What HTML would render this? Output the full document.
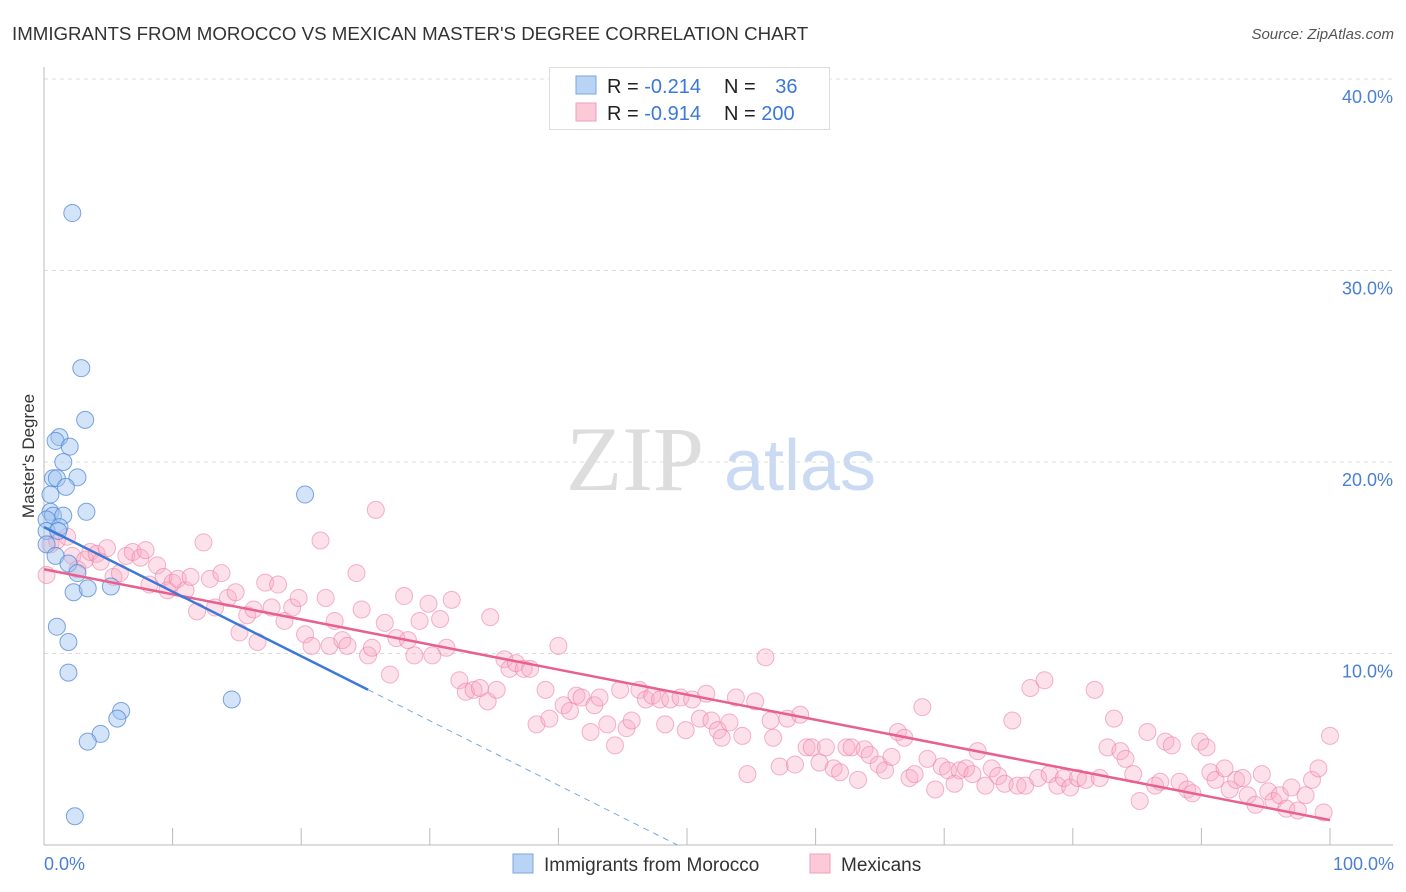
<!DOCTYPE html>
<html><head><meta charset="utf-8"><style>
body{margin:0;background:#fff;font-family:"Liberation Sans",sans-serif}
svg{display:block}
</style></head><body>
<svg id="chart" width="1406" height="892">
<text x="12" y="40" font-size="18.7" fill="#333">IMMIGRANTS FROM MOROCCO VS MEXICAN MASTER'S DEGREE CORRELATION CHART</text>
<text x="1394" y="39" font-size="15" fill="#555" font-style="italic" text-anchor="end">Source: ZipAtlas.com</text>
<g>
<text x="635" y="490" font-size="92" fill="#ddd" font-family="Liberation Serif,serif" text-anchor="middle">ZIP</text>
<text x="800" y="490" font-size="72" fill="#c9daf2" text-anchor="middle">atlas</text>
</g>
<g id="grid"></g>
<g id="axes"></g>
<g id="pink"></g>
<g id="blue"></g>
<g id="lines"></g>
<text transform="translate(34,456) rotate(-90)" font-size="17" fill="#333" text-anchor="middle">Master's Degree</text>
<text x="44" y="870" font-size="18" fill="#4a7fd4">0.0%</text>
<text x="1394" y="870" font-size="18" fill="#4a7fd4" text-anchor="end">100.0%</text>
<g>
<rect x="549.5" y="67.5" width="280" height="62" fill="#fff" stroke="#ddd"/>
<rect x="576" y="76" width="20" height="18" fill="#b9d3f5" stroke="#7aa7e2"/>
<rect x="576" y="103" width="20" height="18" fill="#fbc9d8" stroke="#f0a0ba"/>
<text x="607" y="93" font-size="20" fill="#222">R = <tspan fill="#3b78d8">-0.214</tspan></text>
<text x="724" y="93" font-size="20" fill="#222">N = <tspan fill="#3b78d8" dx="14">36</tspan></text>
<text x="607" y="120" font-size="20" fill="#222">R = <tspan fill="#3b78d8">-0.914</tspan></text>
<text x="724" y="120" font-size="20" fill="#222">N = <tspan fill="#3b78d8">200</tspan></text>
</g>
<g>
<rect x="513" y="854" width="20" height="19" fill="#b9d3f5" stroke="#7aa7e2"/>
<text x="544" y="871" font-size="19" fill="#333">Immigrants from Morocco</text>
<rect x="810" y="854" width="20" height="19" fill="#fbc9d8" stroke="#f0a0ba"/>
<text x="841" y="871" font-size="19" fill="#333">Mexicans</text>
</g>
</svg>
<script>
const blueX=[2.2,2.9,3.2,1.2,0.9,2.0,1.5,0.7,1.0,2.6,1.7,0.5,3.3,0.5,0.7,1.5,0.2,1.2,0.2,1.1,0.2,0.9,1.9,2.6,2.3,3.4,5.2,1.0,1.9,1.9,6.0,5.7,4.4,3.4,2.4,14.6,20.3];
const blueY=[33.0,24.9,22.2,21.3,21.1,20.8,20.0,19.15,19.15,19.2,18.7,18.3,17.4,17.4,17.2,17.2,17.0,16.6,16.4,16.4,15.7,15.1,14.7,14.2,13.2,13.4,13.5,11.4,10.6,9.0,7.0,6.6,5.8,5.4,1.5,7.6,18.3];
const pinkX=[0.2,0.5,1.0,1.8,2.2,2.6,3.2,3.6,4.1,4.4,4.9,5.4,5.9,6.4,6.9,7.5,7.9,8.2,8.8,9.3,9.6,10.0,10.4,11.0,11.4,11.9,12.4,12.9,13.3,13.8,14.3,14.9,15.2,15.8,16.3,16.6,17.2,17.7,18.2,18.7,19.3,19.8,20.3,20.8,21.5,21.9,22.2,22.6,23.2,23.6,24.3,24.7,25.2,25.5,25.8,26.5,26.9,27.4,28.0,28.3,28.8,29.2,29.9,30.2,30.8,31.3,31.7,32.3,32.8,33.4,33.9,34.5,34.7,35.2,35.8,36.2,36.7,37.3,37.8,38.3,39.0,39.3,40.0,40.4,40.9,41.4,41.8,42.5,42.8,43.2,43.8,44.4,44.8,45.3,45.7,46.3,46.8,47.3,47.9,48.3,48.7,49.5,49.9,50.4,51.0,51.5,51.9,52.4,52.7,53.3,53.8,54.3,54.7,55.3,56.1,56.5,56.7,57.2,57.8,58.4,58.8,59.3,59.7,60.3,60.8,61.4,61.9,62.4,62.8,63.3,63.8,64.2,64.9,65.4,65.9,66.4,66.9,67.3,67.7,68.3,68.7,69.3,69.8,70.3,70.8,71.2,71.7,72.2,72.6,73.2,73.7,74.2,74.7,75.3,75.7,76.3,76.7,77.3,77.8,78.2,78.8,79.3,79.8,80.4,81.0,81.7,82.1,82.7,83.2,83.7,84.1,84.7,85.2,85.8,86.4,86.8,87.2,87.7,88.3,88.9,89.3,89.9,90.4,90.7,91.1,91.8,92.2,92.7,93.2,93.6,94.2,94.7,95.2,95.6,96.1,96.6,97.0,97.5,98.1,98.6,99.1,99.5,100];
const pinkY=[14.1,15.7,15.9,16.1,15.1,14.4,14.9,15.3,15.2,14.8,15.5,14.0,14.2,15.1,15.3,15.0,15.4,13.6,14.6,14.0,13.3,13.7,13.9,13.3,14.0,12.2,15.8,13.9,12.4,14.2,12.9,13.2,11.1,12.0,12.3,10.6,13.7,12.4,13.6,11.7,12.4,12.9,11.0,10.4,15.9,12.9,10.4,11.7,10.7,10.4,14.2,12.3,9.9,10.3,17.5,11.6,8.9,10.8,13.0,10.7,9.9,11.7,12.6,9.9,11.8,10.3,12.8,8.6,8.0,8.1,8.2,7.5,11.9,8.1,9.7,9.2,9.5,9.2,9.2,6.3,8.1,6.6,10.4,7.3,7.0,7.8,7.7,5.9,7.3,7.7,6.3,5.2,8.1,6.1,6.5,8.1,7.6,7.8,7.6,6.3,7.6,7.7,6.0,7.6,6.6,7.9,6.5,6.0,5.6,6.4,7.7,5.7,3.7,7.5,9.8,6.5,5.6,4.1,6.6,4.2,6.8,5.1,5.1,4.3,5.1,4.0,3.8,5.1,5.1,3.4,5.0,4.7,4.2,3.9,4.6,5.9,5.6,3.5,3.7,7.2,4.5,2.9,4.1,3.9,3.2,3.9,4.0,3.7,4.9,3.1,4.0,3.6,3.2,6.5,3.1,3.1,8.2,3.5,8.6,3.7,3.1,3.5,3.0,3.5,3.4,8.1,3.5,5.1,6.6,4.9,4.5,3.7,2.3,5.9,3.1,3.3,5.4,5.2,3.3,2.9,2.7,5.4,5.1,3.8,3.4,4.0,2.9,3.4,3.5,2.6,2.1,3.7,2.8,2.3,2.6,1.9,3.0,1.8,2.6,3.4,4.0,1.7,5.7];
const yTicks=[10,20,30,40];
const xTicks=[0,10,20,30,40,50,60,70,80,90,100];
const blueTrend=[16.6,-0.337];
const pinkTrend=[14.4,-0.131];
const blueSolidEnd=25.2;

const NS="http://www.w3.org/2000/svg";
const X0=44,X1=1330,Y0=845,Y40=79;
const sx=v=>X0+(X1-X0)*v/100;
const sy=v=>Y0-(Y0-Y40)*v/40;
function mk(tag,attrs,parent){const e=document.createElementNS(NS,tag);for(const k in attrs)e.setAttribute(k,attrs[k]);document.getElementById(parent).appendChild(e);return e;}
yTicks.forEach(t=>{
  const l=mk('line',{x1:X0,x2:1393,y1:sy(t),y2:sy(t),stroke:'#ddd','stroke-dasharray':'4,4'},'grid');
  
  
  const tx=mk('text',{x:1393,y:sy(t)+24,'font-size':18,fill:'#4a7fd4','text-anchor':'end'},'grid');
  tx.textContent=t.toFixed(1)+'%';
  
  
});
const ya=mk('line',{x1:X0,x2:X0,y1:67,y2:Y0,stroke:'#bbb'},'axes');


const xa=mk('line',{x1:X0,x2:1393,y1:Y0,y2:Y0,stroke:'#bbb'},'axes');


xTicks.forEach(t=>{
  const l=mk('line',{x1:sx(t),x2:sx(t),y1:Y0,y2:Y0-17,stroke:'#bbb'},'axes');
  
  
});
pinkX.forEach((v,i)=>{
  const c=mk('circle',{cx:sx(v),cy:sy(pinkY[i]),r:8.5,fill:'rgba(248,170,195,0.35)',stroke:'rgba(236,130,165,0.6)','stroke-width':1},'pink');
  
  
});
blueX.forEach((v,i)=>{
  const c=mk('circle',{cx:sx(v),cy:sy(blueY[i]),r:8.5,fill:'rgba(160,195,240,0.45)',stroke:'rgba(80,135,215,0.75)','stroke-width':1},'blue');
  
  
});
const pf=x=>pinkTrend[0]+pinkTrend[1]*x, bf=x=>blueTrend[0]+blueTrend[1]*x;
const pl=mk('line',{x1:sx(0),y1:sy(pf(0)),x2:sx(100),y2:sy(pf(100)),stroke:'#e8608c','stroke-width':2.5},'lines');


const bl=mk('line',{x1:sx(0),y1:sy(bf(0)),x2:sx(blueSolidEnd),y2:sy(bf(blueSolidEnd)),stroke:'#3b78d8','stroke-width':2.5},'lines');


const xz=-blueTrend[0]/blueTrend[1];
const bd=mk('line',{x1:sx(blueSolidEnd),y1:sy(bf(blueSolidEnd)),x2:sx(xz),y2:sy(0),stroke:'#7aa7e2','stroke-width':1,'stroke-dasharray':'6,5'},'lines');


</script>
</body></html>
